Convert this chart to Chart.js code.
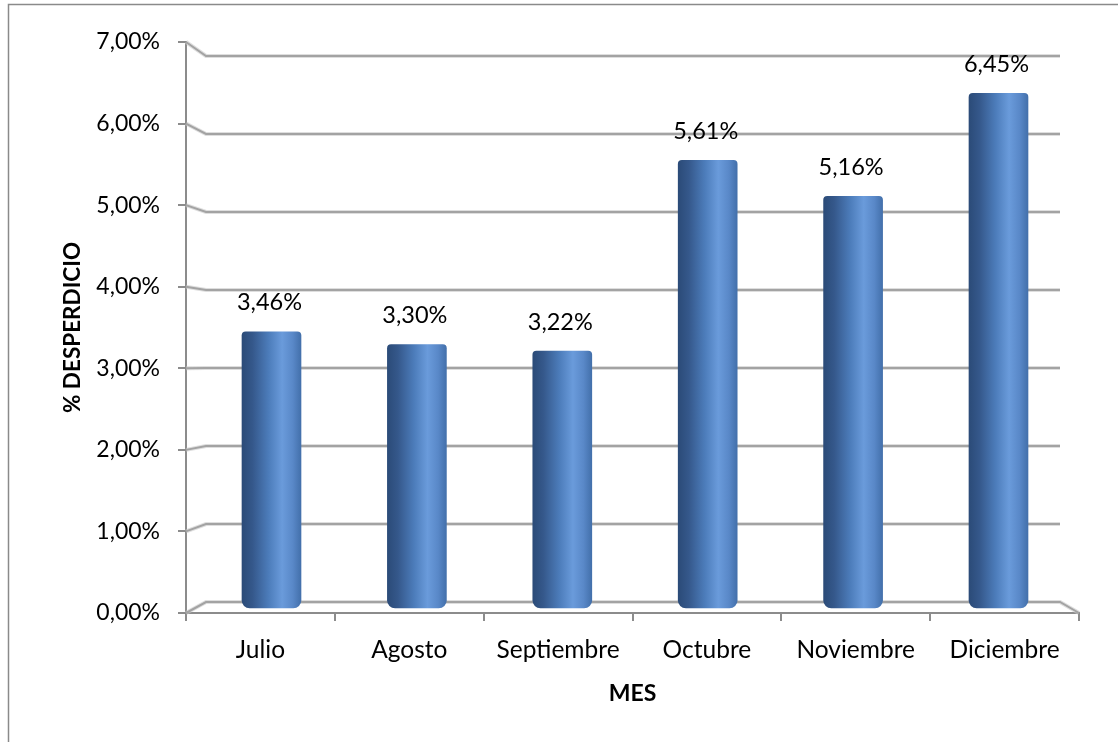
<!DOCTYPE html>
<html>
<head>
<meta charset="utf-8">
<script src="https://cdn.jsdelivr.net/npm/chart.js@4.4.1/dist/chart.umd.min.js"></script>
<style>
  html, body { margin: 0; padding: 0; background: #fff; }
  #wrap { width: 1118px; height: 742px; position: relative; overflow: hidden; }
</style>
</head>
<body>
<div id="wrap"><canvas id="c" width="1118" height="742"></canvas></div>
<script>
const months = ['Julio', 'Agosto', 'Septiembre', 'Octubre', 'Noviembre', 'Diciembre'];
const desperdicio = [3.46, 3.30, 3.22, 5.61, 5.16, 6.45];
const yTickValues = [0, 1, 2, 3, 4, 5, 6, 7];
const yAxisTitle = '% DESPERDICIO';
const xAxisTitle = 'MES';

const fmt = v => v.toFixed(2).replace('.', ',') + '%';
const FONT = 'Lato';
const GRID = '#a3a3a3';
const AXIS = '#8c8c8c';

function barGradient(ctx) {
  if (ctx.type !== 'data') return '#4f81bd';
  const chart = ctx.chart;
  const xs = chart.scales.xb;
  if (!xs) return '#4f81bd';
  const cx = xs.getPixelForValue(ctx.dataIndex);
  if (!isFinite(cx)) return '#4f81bd';
  const w = 59;
  const g = chart.ctx.createLinearGradient(cx - w / 2, 0, cx + w / 2, 0);
  g.addColorStop(0.0, '#2b4b78');
  g.addColorStop(0.18, '#35588b');
  g.addColorStop(0.45, '#4c7cba');
  g.addColorStop(0.68, '#6a9bdb');
  g.addColorStop(0.86, '#5988c8');
  g.addColorStop(1.0, '#4370ab');
  return g;
}

const wallPlugin = {
  id: 'wall',
  beforeDraw(chart) {
    const c = chart.ctx;
    c.save();
    c.strokeStyle = '#8a8a8a';
    c.lineWidth = 1.5;
    c.strokeRect(8.5, 4.5, 1300, 900);
    c.restore();
  },
  beforeDatasetsDraw(chart) {
    const c = chart.ctx;
    const yf = chart.scales.y;
    const yg = chart.scales.yg;
    const a = chart.chartArea;
    const bl = a.left + 20, br = a.right - 19;
    c.save();
    c.lineCap = 'butt';
    yTickValues.forEach(v => {
      const pf = yf.getPixelForValue(v);
      const pb = yg.getPixelForValue(v);
      c.strokeStyle = 'rgba(200,200,200,0.6)';
      c.lineWidth = 4;
      c.beginPath();
      c.moveTo(a.left, pf); c.lineTo(bl, pb); c.lineTo(br, pb);
      if (v === 0) c.lineTo(a.right, pf);
      c.stroke();
      c.strokeStyle = GRID;
      c.lineWidth = 2;
      c.beginPath();
      c.moveTo(a.left, pf); c.lineTo(bl, pb); c.lineTo(br, pb);
      if (v === 0) c.lineTo(a.right, pf);
      c.stroke();
    });
    c.restore();
  },
  afterDatasetsDraw(chart) {
    const c = chart.ctx;
    const meta = chart.getDatasetMeta(0);
    c.save();
    c.font = '23.5px ' + FONT;
    c.fillStyle = '#000';
    c.textAlign = 'center';
    c.textBaseline = 'middle';
    meta.data.forEach((bar, i) => {
      c.fillText(fmt(desperdicio[i]), bar.x - 2, bar.y - 29);
    });
    c.restore();
  }
};

Chart.defaults.color = '#000';
Chart.defaults.font.family = FONT;

new Chart(document.getElementById('c'), {
  type: 'bar',
  data: {
    labels: months,
    datasets: [{
      data: months.map((m, i) => ({ x: i, y: desperdicio[i] })),
      xAxisID: 'xb',
      yAxisID: 'yb',
      backgroundColor: barGradient,
      borderWidth: 0,
      barThickness: 59,
      borderRadius: { topLeft: 4, topRight: 4, bottomLeft: 8, bottomRight: 8 },
      borderSkipped: false
    }]
  },
  options: {
    responsive: false,
    animation: false,
    devicePixelRatio: 1,
    layout: { padding: { left: 0, right: 39, top: 42, bottom: 0 } },
    plugins: { legend: { display: false }, tooltip: { enabled: false } },
    scales: {
      x: {
        type: 'category',
        position: 'bottom',
        offset: true,
        grid: { drawOnChartArea: false, drawTicks: true, tickLength: 8, color: AXIS, lineWidth: 2, offset: true },
        border: { display: true, color: AXIS, width: 2 },
        ticks: { font: { size: 24.5 }, padding: 14, maxRotation: 0, autoSkip: false },
        title: { display: true, text: xAxisTitle, font: { size: 23, weight: 'bold' }, padding: { bottom: 35 } },
        afterFit(s) { s.height = 129; }
      },
      y: {
        type: 'linear',
        position: 'left',
        min: 0,
        max: 7,
        afterBuildTicks(s) { s.ticks = yTickValues.map(v => ({ value: v })); },
        grid: { drawOnChartArea: false, drawTicks: true, tickLength: 8, color: AXIS, lineWidth: 2 },
        border: { display: true, color: AXIS, width: 2 },
        ticks: { font: { size: 23 }, padding: 18, callback: v => fmt(v) },
        title: { display: true, text: yAxisTitle, font: { size: 22.5, weight: 'bold' }, padding: { top: 59 } },
        afterFit(s) { s.width = 186; }
      },
      xb: { type: 'linear', display: false, offset: false, min: -0.588, max: 5.5537 },
      yb: { type: 'linear', display: false, min: -0.06266, max: 7.0928 },
      yg: { type: 'linear', display: false, min: -0.141, max: 7.1795 }
    }
  },
  plugins: [wallPlugin]
});
</script>
</body>
</html>
